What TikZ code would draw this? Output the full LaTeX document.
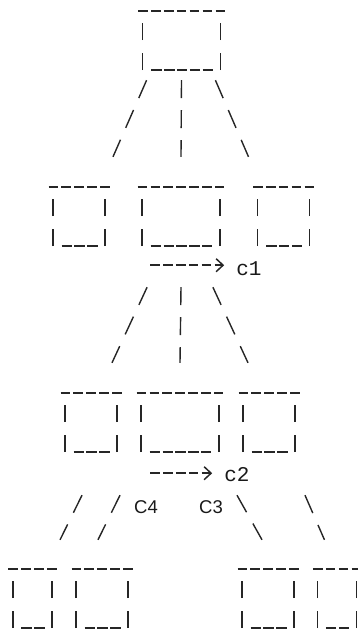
\documentclass[tikz,border=0pt]{standalone}
\usepackage{fontspec}
\setmonofont{Liberation Mono}
\setsansfont{Liberation Sans}
\usetikzlibrary{calc,arrows.meta}
\tikzset{
    box/.style={
        rectangle,
        inner sep=0pt,
        minimum width={(#1-1)*12.9pt},
        minimum height=59pt
    },
    ink/.style={
        draw=black!85,
        line width=1.5pt
    },
    hyph/.style={
        ink,
        dash pattern=on 9.6pt off 3.3pt
    },
    under/.style={
        ink,
        dash pattern=on 10.5pt off 2.4pt
    },
    bar/.style={
        ink,
        line width=1.4pt,
        dash pattern=on 17pt off 13pt
    },
    slash/.style={
        ink,
        line width=1.4pt,
        dash pattern=on 19.5pt off 13pt
    },
    stem/.style={
        ink,
        line width=1.4pt,
        dash pattern=on 18pt off 12pt
    },
    pointer/.style={
        hyph,
        -{Straight Barb[length=7pt,width=13pt]},
        shorten >=12pt
    },
    tag/.style={
        inner sep=0pt,
        text=black!90,
        font=\ttfamily\fontsize{21}{21}\selectfont
    },
    bigtag/.style={
        inner sep=0pt,
        text=black!90,
        font=\sffamily\fontsize{18.5}{18.5}\selectfont
    }
}
\begin{document}
\begin{tikzpicture}[x=1pt, y=-1pt]
    \useasboundingbox (0,0) rectangle (358,630);
    \node[box=7] (root) at (181.5,40.5) {};
    \node[box=5] (n1) at (79,216.5) {};
    \node[box=7] (n2) at (181,216.5) {};
    \node[box=5] (n3) at (283.5,216.5) {};
    \node[box=5] (m1) at (91,422.5) {};
    \node[box=7] (m2) at (180,422.5) {};
    \node[box=5] (m3) at (269,422.5) {};
    \node[box=4] (k1) at (32.5,598.5) {};
    \node[box=5] (k2) at (102,598.5) {};
    \node[box=5] (k3) at (268,598.5) {};
    \node[box=4] (k4) at (337,598.5) {};

    % boxes typed with - | and _
    \foreach \b in {root,n1,n2,n3,m1,m2,m3,k1,k2,k3,k4} {
        \draw[hyph] ([xshift=-4.5pt]\b.north west) -- ([xshift=4.5pt]\b.north east);
        \draw[bar] (\b.south west) -- ([yshift=-12pt]\b.north west);
        \draw[bar] (\b.south east) -- ([yshift=-12pt]\b.north east);
        \draw[under] ([xshift=8.5pt]\b.south west) -- ([xshift=-7.5pt]\b.south east);
    }

    \draw[slash] ($(root.south west)+(4,10)$) -- ($(n1.north east)+(8,-30)$);
    \draw[stem] ($(root.south)+(0,10)$) -- ($(n2.north)+(0,-30)$);
    \draw[slash] ($(root.south east)+(-5,10)$) -- ($(n3.north west)+(-9,-30)$);

    \node[tag, anchor=base] (c1) at (249,275) {c1};
    \coordinate (p1) at ($(n2.south west)+(8,19)$);
    \draw[pointer] (p1) -- (p1 -| c1.west);

    \draw[slash] ($(n2.south west)+(5,41)$) -- ($(m1.north east)+(-5,-30)$);
    \draw[stem] ($(n2.south)+(0,41)$) -- ($(m2.north)+(0,-30)$);
    \draw[slash] ($(n2.south east)+(-7,41)$) -- ($(m3.north west)+(5,-30)$);

    \node[tag, anchor=base] (c2) at (237,481) {c2};
    \coordinate (p2) at ($(m2.south west)+(9,21)$);
    \draw[pointer] (p2) -- (p2 -| c2.west);

    \draw[slash] ($(m1.south west)+(17,43)$) -- ($(k1.north east)+(8,-29)$);
    \draw[slash] ($(m1.south east)+(3,43)$) -- ($(k2.north west)+(22,-29)$);
    \draw[slash] ($(m3.south west)+(-6,43)$) -- ($(k3.north west)+(20,-29)$);
    \draw[slash] ($(m3.south east)+(10,43)$) -- ($(k4.north west)+(7,-29)$);

    \node[bigtag, anchor=base] (c4) at (146,513) {C4};
    \node[bigtag, anchor=base] (c3) at (211,513) {C3};
\end{tikzpicture}
\end{document}
